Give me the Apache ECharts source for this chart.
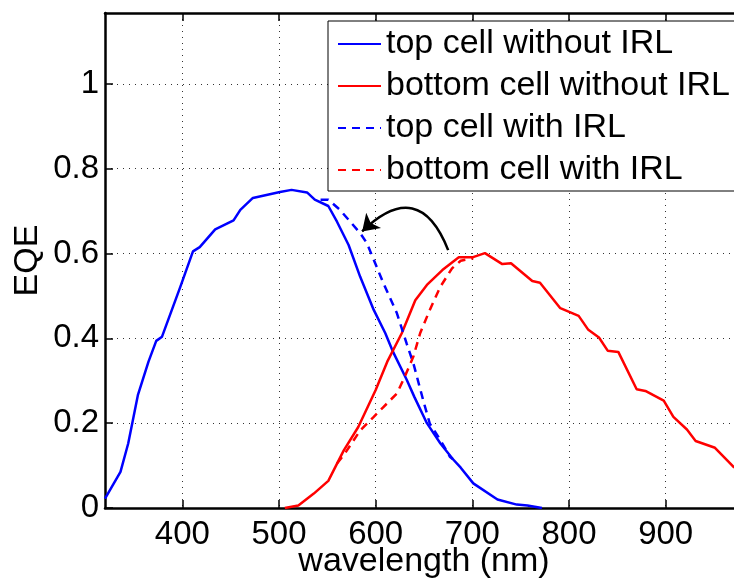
<!DOCTYPE html>
<html>
<head>
    <meta charset="UTF-8">
    <title>EQE</title>
    <style type="text/css">
        *{ margin: 0; padding: 0; }
        body{ background: #fff; }
        #main{ width: 734px; height: 581px; }
    </style>
    <script src="https://cdn.jsdelivr.net/npm/echarts@6/dist/echarts.min.js" type="text/javascript"></script>
</head>
<body>
<div id="main"></div>
<script type="text/javascript">
    // 数据: 波长 nm / EQE
    var topNoX = [320, 336, 344, 354, 365, 373, 379, 398, 411, 418, 434, 453, 460, 473, 501, 513, 529, 537, 551, 560, 572, 584, 598, 610, 618, 632, 640, 653, 667, 680, 688, 701, 726, 746, 757, 772];
    var topNoY = [0.022, 0.085, 0.152, 0.266, 0.345, 0.394, 0.404, 0.522, 0.605, 0.615, 0.657, 0.678, 0.703, 0.731, 0.745, 0.750, 0.744, 0.727, 0.712, 0.675, 0.620, 0.545, 0.467, 0.412, 0.368, 0.303, 0.262, 0.200, 0.152, 0.115, 0.095, 0.058, 0.020, 0.008, 0.006, 0.0];

    var botNoX = [506, 520, 536, 551, 567, 582, 600, 612, 627, 641, 653, 669, 686, 700, 713, 731, 740, 762, 770, 791, 810, 820, 831, 840, 851, 870, 879, 898, 908, 922, 931, 951, 971];
    var botNoY = [0.0, 0.006, 0.034, 0.064, 0.136, 0.191, 0.278, 0.345, 0.412, 0.490, 0.526, 0.561, 0.591, 0.591, 0.601, 0.575, 0.577, 0.535, 0.531, 0.471, 0.453, 0.420, 0.402, 0.371, 0.368, 0.280, 0.276, 0.253, 0.215, 0.185, 0.158, 0.142, 0.095];

    var topIrlX = [543, 551, 563, 584, 591, 608, 622, 632, 639, 650, 656, 667, 677, 680];
    var topIrlY = [0.727, 0.727, 0.703, 0.648, 0.624, 0.530, 0.459, 0.388, 0.341, 0.247, 0.199, 0.160, 0.120, 0.115];

    var botIrlX = [560, 568, 584, 598, 608, 622, 630, 639, 646, 656, 667, 679, 688, 701];
    var botIrlY = [0.105, 0.128, 0.183, 0.215, 0.238, 0.270, 0.309, 0.357, 0.412, 0.467, 0.522, 0.565, 0.583, 0.589];

    var xTicks = [400, 500, 600, 700, 800, 900];
    var yTicks = [0, 0.2, 0.4, 0.6, 0.8, 1];

    // 箭头 (数据坐标)
    var arrowFrom = [675, 0.608];
    var arrowTo = [586, 0.652];

    function pairs(xs, ys) {
        return xs.map(function (x, i) { return [x, ys[i]]; });
    }

    var FONT = 'Liberation Sans';
    var myChart = echarts.init(document.getElementById('main'), null, {renderer: 'canvas'});

    function lineSeries(name, xs, ys, color, dashed) {
        return {
            name: name,
            type: 'line',
            xAxisIndex: 0,
            yAxisIndex: 0,
            data: pairs(xs, ys),
            symbol: 'none',
            showSymbol: false,
            lineStyle: {color: color, width: 2.5, type: dashed ? [8, 6] : 'solid'},
            itemStyle: {color: color},
            z: 3
        };
    }

    var option = {
        animation: false,
        backgroundColor: '#fff',
        textStyle: {fontFamily: FONT, color: '#000'},
        grid: {
            left: 105,
            top: 13,
            right: -9,
            bottom: 73,
            containLabel: false,
            outerBoundsMode: 'none'
        },
        legend: {
            data: ['top cell without IRL', 'bottom cell without IRL', 'top cell with IRL', 'bottom cell with IRL'],
            orient: 'vertical',
            left: 328,
            top: 21,
            itemWidth: 43,
            itemHeight: 14,
            itemGap: 4,
            padding: [4, 40, 2, 9],
            backgroundColor: '#fff',
            borderColor: '#000',
            borderWidth: 1,
            borderRadius: 0,
            // 图例只显示线段, 不要圆点
            itemStyle: {opacity: 0},
            textStyle: {fontFamily: FONT, fontSize: 34, color: '#000', lineHeight: 38}
        },
        xAxis: [
            {
                type: 'value',
                min: 320,
                max: 980,
                name: 'wavelength (nm)',
                nameLocation: 'middle',
                nameGap: 37,
                nameMoveOverlap: false,
                nameTextStyle: {fontFamily: FONT, fontSize: 34, color: '#000'},
                axisLine: {show: true, onZero: false, lineStyle: {color: '#000', width: 2.5}},
                axisTick: {show: true, inside: true, length: 8, customValues: xTicks, lineStyle: {color: '#000', width: 1.5}},
                axisLabel: {customValues: xTicks, fontFamily: FONT, fontSize: 33, color: '#000', margin: 10},
                splitLine: {show: true, lineStyle: {color: '#333', width: 1, type: [1, 5]}}
            },
            {
                type: 'value',
                position: 'top',
                min: 320,
                max: 980,
                axisLine: {show: true, onZero: false, lineStyle: {color: '#000', width: 2.5}},
                axisTick: {show: true, inside: true, length: 8, customValues: xTicks, lineStyle: {color: '#000', width: 1.5}},
                axisLabel: {show: false},
                splitLine: {show: false}
            }
        ],
        yAxis: {
            type: 'value',
            min: 0,
            max: 1.167,
            name: 'EQE',
            nameLocation: 'middle',
            nameGap: 60,
            nameRotate: 90,
            nameMoveOverlap: false,
            nameTextStyle: {fontFamily: FONT, fontSize: 34, color: '#000'},
            axisLine: {show: true, onZero: false, lineStyle: {color: '#000', width: 2.5}},
            axisTick: {show: true, inside: true, length: 8, customValues: yTicks, lineStyle: {color: '#000', width: 1.5}},
            axisLabel: {customValues: yTicks, fontFamily: FONT, fontSize: 33, color: '#000', margin: 6},
            splitLine: {show: true, lineStyle: {color: '#333', width: 1, type: [1, 5]}}
        },
        series: [
            lineSeries('top cell without IRL', topNoX, topNoY, '#0000ff', false),
            lineSeries('bottom cell without IRL', botNoX, botNoY, '#ff0000', false),
            lineSeries('top cell with IRL', topIrlX, topIrlY, '#0000ff', true),
            lineSeries('bottom cell with IRL', botIrlX, botIrlY, '#ff0000', true),
            {
                name: 'arrow',
                type: 'lines',
                coordinateSystem: 'cartesian2d',
                xAxisIndex: 0,
                yAxisIndex: 0,
                symbol: ['none', 'arrow'],
                symbolSize: 16,
                lineStyle: {color: '#000', width: 2.5, curveness: -0.75, opacity: 1},
                data: [{coords: [arrowFrom, arrowTo]}],
                z: 4
            }
        ]
    };
    myChart.setOption(option);
</script>
</body>
</html>
